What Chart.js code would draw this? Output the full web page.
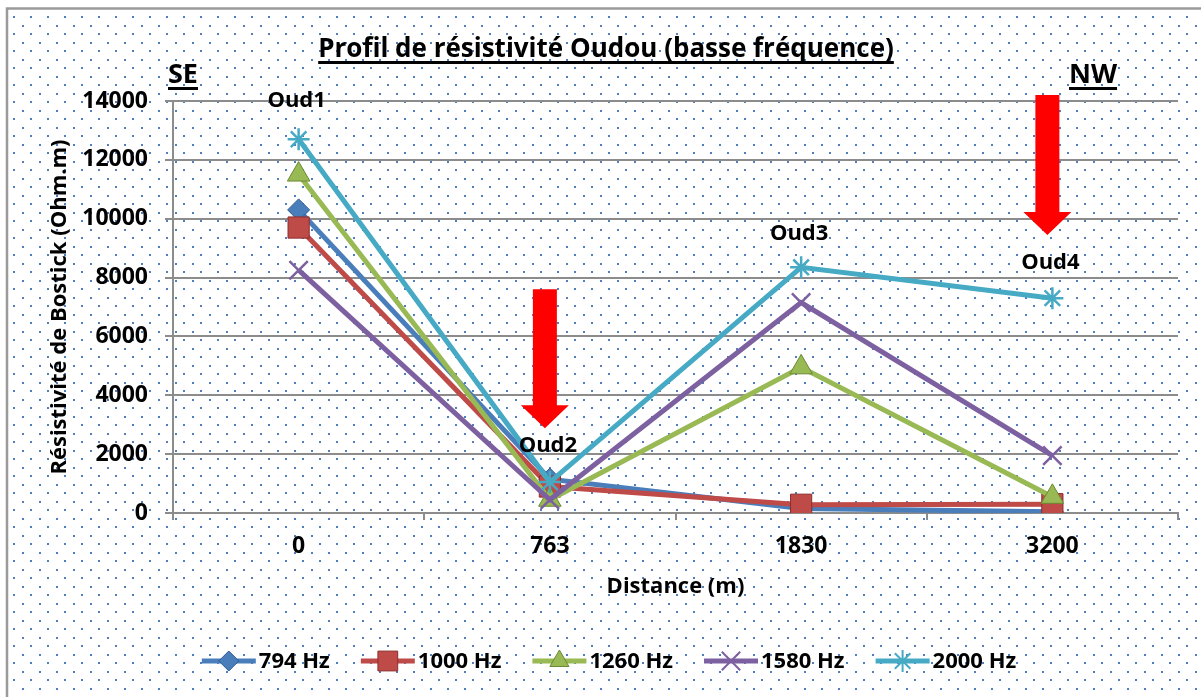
<!DOCTYPE html>
<html>
<head>
<meta charset="utf-8">
<script src="https://cdn.jsdelivr.net/npm/chart.js@4/dist/chart.umd.min.js"></script>
<style>
  html, body { margin: 0; padding: 0; background: #fff; }
  #wrap { width: 1201px; height: 697px; }
</style>
</head>
<body>
<div id="wrap"><canvas id="myChart"></canvas></div>
<script>
const categories = ["0", "763", "1830", "3200"];
const hz794 = [10300, 1150, 150, 40];
const hz1000 = [9700, 900, 280, 300];
const hz1260 = [11500, 450, 4950, 550];
const hz1580 = [8250, 450, 7150, 1950];
const hz2000 = [12700, 1050, 8350, 7300];
const yMin = 0;
const yMax = 14000;
const yStep = 2000;

// site labels above the curves: [category index, value where the label sits]
const sites = [["Oud1", 0, 14000], ["Oud2", 1, 2300], ["Oud3", 2, 9500], ["Oud4", 3, 8500]];
// red arrows: [category index, top value, tip value]
const arrows = [[1, 7600, 2880], [3, 14200, 9450]];

const FONT = "'Open Sans', sans-serif";

const series = [
  { label: "794 Hz", data: hz794, color: "#4a7ebb", edge: "#2e5a92", style: "rectRot", r: 11, lr: 10 },
  { label: "1000 Hz", data: hz1000, color: "#be4b48", edge: "#8c2f2d", style: "rect", r: 15, lr: 14 },
  { label: "1260 Hz", data: hz1260, color: "#98b954", edge: "#6b8a33", style: "triangle", r: 13, lr: 11 },
  { label: "1580 Hz", data: hz1580, color: "#7d60a0", edge: "#7d60a0", style: "crossRot", r: 13, lr: 13 },
  { label: "2000 Hz", data: hz2000, color: "#46aac5", edge: "#46aac5", style: "star", r: 11, lr: 11 },
];

const datasets = series.map((s, i) => ({
  label: s.label,
  data: s.data,
  borderColor: s.color,
  backgroundColor: s.color,
  borderWidth: 5,
  pointStyle: s.style,
  pointRadius: s.r,
  pointHoverRadius: s.r,
  pointBackgroundColor: s.color,
  pointBorderColor: s.edge,
  pointBorderWidth: s.style.startsWith("cross") || s.style === "star" ? 2.5 : 1,
  tension: 0,
  order: series.length - 1 - i, // last series on top
}));

// dotted page background and frame
const backdrop = {
  id: "backdrop",
  beforeDraw(chart) {
    const ctx = chart.ctx;
    const w = chart.width, h = chart.height;
    ctx.save();
    ctx.fillStyle = "#ffffff";
    ctx.fillRect(0, 0, w, h);
    ctx.fillStyle = "#4f7fc0";
    for (let y = 17, row = 0; y < h; y += 8.5, row++) {
      for (let x = row % 2 ? 22.5 : 14; x < w; x += 17) {
        ctx.fillRect(Math.round(x) - 1, Math.round(y) - 1, 2, 2);
      }
    }
    ctx.strokeStyle = "#9a9a9a";
    ctx.lineWidth = 2.5;
    ctx.beginPath();
    ctx.moveTo(7, h);
    ctx.lineTo(7, 8.5);
    ctx.lineTo(w, 8.5);
    ctx.stroke();
    ctx.restore();
  },
};

function underlined(ctx, text, x, y, font, align) {
  ctx.font = font;
  ctx.textAlign = align;
  ctx.textBaseline = "alphabetic";
  ctx.fillText(text, x, y);
  const tw = ctx.measureText(text).width;
  const x0 = align === "center" ? x - tw / 2 : x;
  ctx.fillRect(x0, y + 4, tw, 3);
}

// title, SE/NW, site names, arrows and legend
const overlay = {
  id: "overlay",
  afterDraw(chart) {
    const ctx = chart.ctx;
    const xs = chart.scales.x, ys = chart.scales.y;
    const area = chart.chartArea;
    ctx.save();
    ctx.fillStyle = "#000";
    underlined(ctx, "Profil de résistivité Oudou (basse fréquence)", 606, 57, "bold 26px " + FONT, "center");
    underlined(ctx, "SE", 168, 83, "bold 27px " + FONT, "left");
    underlined(ctx, "NW", 1069, 83, "bold 27px " + FONT, "left");

    ctx.font = "bold 22px " + FONT;
    ctx.textAlign = "center";
    ctx.textBaseline = "middle";
    sites.forEach(([name, idx, val]) => {
      ctx.fillText(name, xs.getPixelForValue(idx) - 2, ys.getPixelForValue(val));
    });

    ctx.fillStyle = "#ff0000";
    arrows.forEach(([idx, top, tip]) => {
      const cx = xs.getPixelForValue(idx) - 5;
      const yTop = ys.getPixelForValue(top);
      const yTip = ys.getPixelForValue(tip);
      const yHead = yTip - 23;
      ctx.beginPath();
      ctx.moveTo(cx - 12, yTop);
      ctx.lineTo(cx + 12, yTop);
      ctx.lineTo(cx + 12, yHead);
      ctx.lineTo(cx + 24, yHead);
      ctx.lineTo(cx, yTip);
      ctx.lineTo(cx - 24, yHead);
      ctx.lineTo(cx - 12, yHead);
      ctx.closePath();
      ctx.fill();
    });

    // legend: line stub with marker, then label
    const ly = 661;
    const stub = 54;
    ctx.font = "bold 22px " + FONT;
    const widths = series.map(s => ctx.measureText(s.label).width);
    const total = widths.reduce((a, b) => a + b, 0) + series.length * (stub + 4) + (series.length - 1) * 30;
    let x = (area.left + area.right) / 2 - 66 - total / 2;
    series.forEach((s, i) => {
      ctx.strokeStyle = s.color;
      ctx.lineWidth = 5;
      ctx.beginPath();
      ctx.moveTo(x, ly);
      ctx.lineTo(x + stub, ly);
      ctx.stroke();
      ctx.fillStyle = s.color;
      ctx.strokeStyle = s.edge;
      const cross = s.style.startsWith("cross") || s.style === "star";
      ctx.lineWidth = cross ? 2 : 1;
      Chart.helpers.drawPoint(ctx, { pointStyle: s.style, radius: s.lr, rotation: 0, borderWidth: ctx.lineWidth }, x + stub / 2, ly);
      ctx.fillStyle = "#000";
      ctx.textAlign = "left";
      ctx.textBaseline = "middle";
      ctx.fillText(s.label, x + stub + 3, ly + 1);
      x += stub + 4 + widths[i] + 30;
    });
    ctx.restore();
  },
};

new Chart(document.getElementById("myChart"), {
  type: "line",
  data: { labels: categories, datasets: datasets },
  options: {
    responsive: true,
    maintainAspectRatio: false,
    animation: false,
    layout: { padding: { left: 47, right: 23, top: 101, bottom: 97 } },
    plugins: {
      legend: { display: false },
      tooltip: { enabled: false },
    },
    scales: {
      x: {
        type: "category",
        offset: true,
        afterFit(scale) { scale.height = 87; },
        grid: { offset: true, drawOnChartArea: false, drawTicks: true, tickLength: 7, color: "#8c8c8c", lineWidth: 2 },
        border: { color: "#8c8c8c", width: 2 },
        ticks: { color: "#000", padding: 13, font: { family: FONT, size: 23, weight: "bold" } },
        title: { display: true, text: "Distance (m)", color: "#000", padding: { top: 0, bottom: 0 }, font: { family: FONT, size: 22, weight: "bold" } },
      },
      y: {
        min: yMin,
        max: yMax,
        afterFit(scale) { scale.width = 126; },
        grid: { color: "#8c8c8c", lineWidth: 2, tickLength: 8 },
        border: { color: "#8c8c8c", width: 2 },
        ticks: {
          stepSize: yStep,
          color: "#000",
          padding: 17,
          font: { family: FONT, size: 23, weight: "bold" },
          callback: v => String(v),
        },
        title: { display: true, text: "Résistivité de Bostick (Ohm.m)", color: "#000", padding: { top: 0, bottom: 0 }, font: { family: FONT, size: 22, weight: "bold" } },
      },
    },
  },
  plugins: [backdrop, overlay],
});
</script>
</body>
</html>
